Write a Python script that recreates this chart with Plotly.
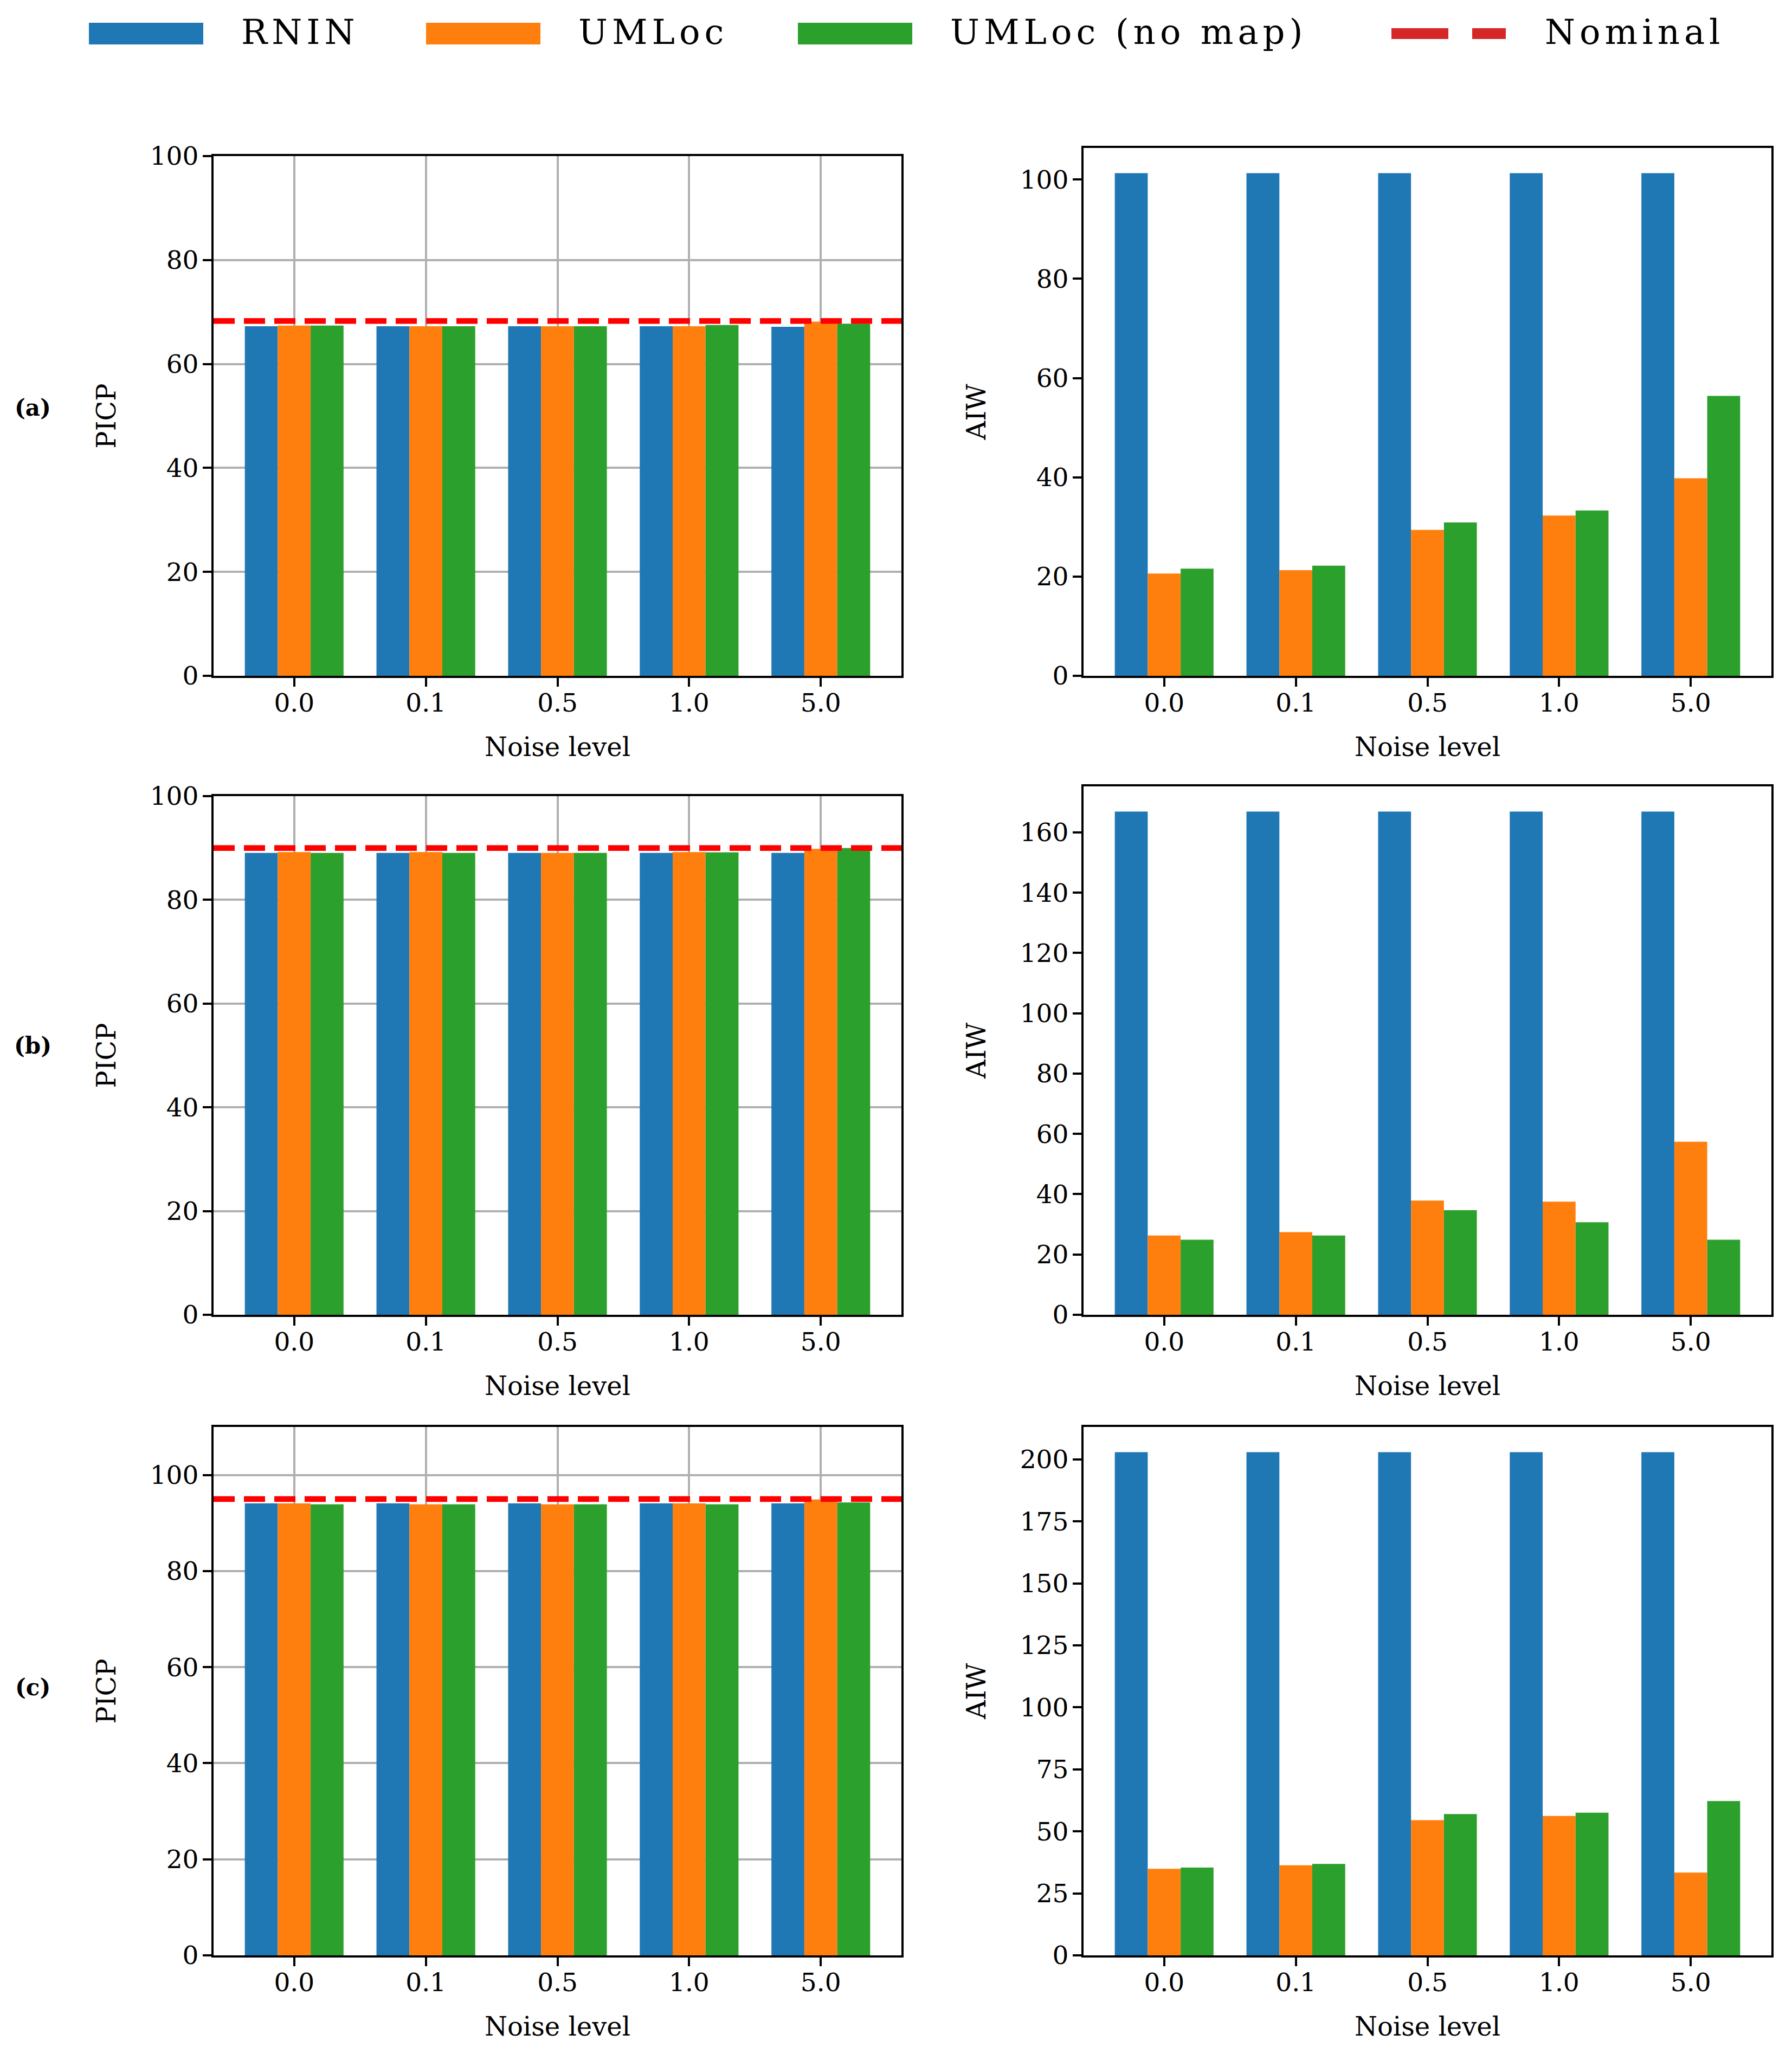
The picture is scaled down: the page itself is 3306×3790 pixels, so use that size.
import plotly.graph_objects as go

# ---------------- data ----------------
noise_levels = ["0.0", "0.1", "0.5", "1.0", "5.0"]
methods = ["RNIN", "UMLoc", "UMLoc (no map)"]
row_labels = ["(a)", "(b)", "(c)"]
nominal = [68.27, 90.0, 95.0]

picp_a_rnin = [67.25, 67.25, 67.25, 67.25, 67.15]
picp_a_umloc = [67.4, 67.25, 67.25, 67.25, 68.15]
picp_a_nomap = [67.4, 67.25, 67.25, 67.5, 67.75]

picp_b_rnin = [89.05, 89.05, 89.05, 89.05, 89.05]
picp_b_umloc = [89.2, 89.2, 89.05, 89.2, 89.85]
picp_b_nomap = [89.05, 89.05, 89.05, 89.15, 90.0]

picp_c_rnin = [94.1, 94.1, 94.1, 94.1, 94.1]
picp_c_umloc = [94.1, 93.9, 93.9, 94.1, 94.9]
picp_c_nomap = [93.9, 93.9, 93.9, 93.9, 94.3]

aiw_a_rnin = [101.3, 101.3, 101.3, 101.3, 101.3]
aiw_a_umloc = [20.6, 21.3, 29.4, 32.3, 39.8]
aiw_a_nomap = [21.6, 22.2, 30.9, 33.3, 56.4]

aiw_b_rnin = [166.9, 166.9, 166.9, 166.9, 166.9]
aiw_b_umloc = [26.3, 27.4, 37.9, 37.5, 57.4]
aiw_b_nomap = [24.9, 26.3, 34.7, 30.7, 24.9]

aiw_c_rnin = [202.9, 202.9, 202.9, 202.9, 202.9]
aiw_c_umloc = [34.9, 36.3, 54.5, 56.2, 33.4]
aiw_c_nomap = [35.4, 36.9, 57.0, 57.5, 62.2]

picp_ticks_ab = [0, 20, 40, 60, 80, 100]
picp_ticks_c = [0, 20, 40, 60, 80, 100]
aiw_ticks_a = [0, 20, 40, 60, 80, 100]
aiw_ticks_b = [0, 20, 40, 60, 80, 100, 120, 140, 160]
aiw_ticks_c = [0, 25, 50, 75, 100, 125, 150, 175, 200]

# ---------------- style ----------------
W, H = 3306, 3790
OFF = 8  # page body margin compensation
COLORS = ["#1f77b4", "#ff7f0e", "#2ca02c"]
FONT = "DejaVu Serif"
LW = 4.3

def px_x(p):
    return (p - OFF) / W

def px_y(p):
    return 1 - (p - OFF) / H

# panel boxes in pixels: (left, right, top, bottom)
panels = [
    dict(kind="picp", row=0, box=(394, 1663, 288, 1247),
         data=[picp_a_rnin, picp_a_umloc, picp_a_nomap], yr=[0, 100], ticks=picp_ticks_ab),
    dict(kind="aiw", row=0, box=(1999, 3268, 273, 1247),
         data=[aiw_a_rnin, aiw_a_umloc, aiw_a_nomap], yr=None, ticks=aiw_ticks_a),
    dict(kind="picp", row=1, box=(394, 1663, 1469, 2426),
         data=[picp_b_rnin, picp_b_umloc, picp_b_nomap], yr=[0, 100], ticks=picp_ticks_ab),
    dict(kind="aiw", row=1, box=(1999, 3268, 1451, 2426),
         data=[aiw_b_rnin, aiw_b_umloc, aiw_b_nomap], yr=None, ticks=aiw_ticks_b),
    dict(kind="picp", row=2, box=(394, 1663, 2633, 3608),
         data=[picp_c_rnin, picp_c_umloc, picp_c_nomap], yr=[0, 110], ticks=picp_ticks_c),
    dict(kind="aiw", row=2, box=(1999, 3268, 2633, 3608),
         data=[aiw_c_rnin, aiw_c_umloc, aiw_c_nomap], yr=None, ticks=aiw_ticks_c),
]

fig = go.Figure()
layout = dict(
    width=W, height=H,
    margin=dict(l=0, r=0, t=0, b=0, autoexpand=False),
    paper_bgcolor="white", plot_bgcolor="white",
    font=dict(family=FONT, color="black", size=47),
    barmode="group", bargap=0.25, bargroupgap=0.0,
    showlegend=False,
)

shapes = []
annotations = []

for k, p in enumerate(panels, start=1):
    xa = "x" if k == 1 else f"x{k}"
    ya = "y" if k == 1 else f"y{k}"
    for m, vals in enumerate(p["data"]):
        fig.add_trace(go.Bar(
            x=noise_levels, y=vals, name=methods[m],
            marker=dict(color=COLORS[m], line=dict(width=0)),
            xaxis=xa, yaxis=ya, showlegend=False,
            offsetgroup=str(m),
        ))
    l, r, t, b = p["box"]
    grid = p["kind"] == "picp"
    if p["yr"] is None:
        ymax = max(max(v) for v in p["data"]) * 1.05
        yr = [0, ymax]
    else:
        yr = p["yr"]
    common = dict(
        showline=True, linecolor="black", linewidth=LW, mirror=True,
        ticks="outside", ticklen=16, tickwidth=LW, tickcolor="black",
        tickfont=dict(family=FONT, size=47, color="black"),
        showgrid=grid, gridcolor="#b0b0b0", gridwidth=LW,
        zeroline=False, layer="above traces", automargin=False,
    )
    layout["xaxis" if k == 1 else f"xaxis{k}"] = dict(
        domain=[px_x(l), px_x(r)], anchor=ya, type="category",
        range=[-0.6125, 4.6125], ticklabelstandoff=-11,
        title=dict(text="Noise level", font=dict(family=FONT, size=48), standoff=40),
        **common,
    )
    layout["yaxis" if k == 1 else f"yaxis{k}"] = dict(
        domain=[px_y(b), px_y(t)], anchor=xa, range=yr,
        tickmode="array", tickvals=p["ticks"], ticklabelstandoff=-2,
        title=dict(text="PICP" if p["kind"] == "picp" else "AIW",
                   font=dict(family=FONT, size=48), standoff=49),
        **common,
    )
    if p["kind"] == "picp":
        shapes.append(dict(
            type="line", xref=f"{xa} domain", x0=0, x1=1,
            yref=ya, y0=nominal[p["row"]], y1=nominal[p["row"]],
            line=dict(color="#ff0000", width=10.5, dash="39px,17px"),
            layer="above",
        ))

# row labels
row_label_y = [752, 1929, 3113]
for i, lab in enumerate(row_labels):
    annotations.append(dict(
        text=f"<b>{lab}</b>", xref="paper", yref="paper",
        x=px_x(60), y=px_y(row_label_y[i]), showarrow=False,
        xanchor="center", yanchor="middle",
        font=dict(family=FONT, size=42, color="black"),
    ))

# legend (drawn manually to match the wide patches)
leg_patches = [(164, 375), (786, 997), (1472, 1683)]
leg_text_x = [443, 1065, 1751, 2848]
leg_names = methods + ["Nominal"]
for i, (x0, x1) in enumerate(leg_patches):
    shapes.append(dict(
        type="rect", xref="paper", yref="paper",
        x0=px_x(x0), x1=px_x(x1), y0=px_y(82), y1=px_y(42),
        fillcolor=COLORS[i], line=dict(width=0),
    ))
shapes.append(dict(
    type="line", xref="paper", yref="paper",
    x0=px_x(2567), x1=px_x(2778), y0=px_y(62), y1=px_y(62),
    line=dict(color="#d62728", width=20, dash="105px,44px"),
))
for i, name in enumerate(leg_names):
    annotations.append(dict(
        text=f'<span style="letter-spacing:8px">{name}</span>',
        xref="paper", yref="paper",
        x=px_x(leg_text_x[i]), y=px_y(59), showarrow=False,
        xanchor="left", yanchor="middle",
        font=dict(family=FONT, size=64, color="black"),
    ))

layout["shapes"] = shapes
layout["annotations"] = annotations
fig.update_layout(**layout)
fig.write_html("out.html")
